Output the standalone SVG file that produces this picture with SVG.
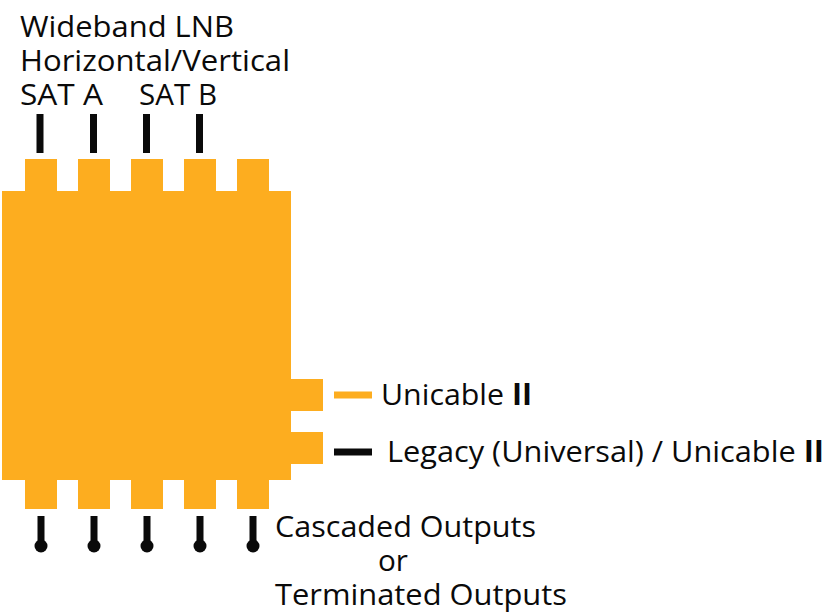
<svg xmlns="http://www.w3.org/2000/svg" width="828" height="615" viewBox="0 0 828 615">
<style>
.t{font-family:"Open Sans","Noto Sans",sans-serif;font-size:30px;fill:#0a0a0a}
.b{fill:#fdad1f}
.w{stroke:#0a0a0a;stroke-width:7;fill:none}
.e{fill:#0a0a0a}
</style>
<rect width="828" height="615" fill="#fff"/>
<g id="multiswitch">
<rect class="b" x="2" y="191" width="289" height="289"/>
<rect class="b" x="25" y="159" width="32" height="32"/>
<rect class="b" x="78" y="159" width="32" height="32"/>
<rect class="b" x="131" y="159" width="32" height="32"/>
<rect class="b" x="184" y="159" width="32" height="32"/>
<rect class="b" x="237" y="159" width="32" height="32"/>
<rect class="b" x="25" y="480" width="32" height="29"/>
<rect class="b" x="78" y="480" width="32" height="29"/>
<rect class="b" x="131" y="480" width="32" height="29"/>
<rect class="b" x="184" y="480" width="32" height="29"/>
<rect class="b" x="237" y="480" width="32" height="29"/>
<rect class="b" x="291" y="379" width="32" height="32"/>
<rect class="b" x="291" y="432" width="32" height="32"/>
</g>
<g id="connectors">
<path class="w" d="M40 114V153M93.500 114V153M146.500 114V153M199.500 114V153"/>
<path class="w" d="M41 516V546M94 516V546M147 516V546M200 516V546M253 516V546"/>
<circle class="e" cx="41" cy="546" r="6.500"/>
<circle class="e" cx="94" cy="546" r="6.500"/>
<circle class="e" cx="147" cy="546" r="6.500"/>
<circle class="e" cx="200" cy="546" r="6.500"/>
<circle class="e" cx="253" cy="546" r="6.500"/>
<path d="M334 395H372" stroke="#fdad1f" stroke-width="7" fill="none"/>
<path class="w" d="M334 452H372"/>
</g>
<g id="input-label">
<text class="t" x="20" y="37" textLength="214" lengthAdjust="spacingAndGlyphs">Wideband LNB</text>
<text class="t" x="20" y="71" textLength="270" lengthAdjust="spacingAndGlyphs">Horizontal/Vertical</text>
<text class="t" x="20" y="105" textLength="83" lengthAdjust="spacingAndGlyphs">SAT A</text>
<text class="t" x="139" y="105" textLength="78" lengthAdjust="spacingAndGlyphs">SAT B</text>
</g>
<g id="unicable-label">
<text class="t" x="381" y="405" textLength="151" lengthAdjust="spacingAndGlyphs">Unicable <tspan font-weight="700">II</tspan></text>
</g>
<g id="legacy-label">
<text class="t" x="387" y="462" textLength="437" lengthAdjust="spacingAndGlyphs">Legacy (Universal) / Unicable <tspan font-weight="700">II</tspan></text>
</g>
<g id="output-label">
<text class="t" x="275" y="537" textLength="261" lengthAdjust="spacingAndGlyphs">Cascaded Outputs</text>
<text class="t" x="378" y="571" textLength="30" lengthAdjust="spacingAndGlyphs">or</text>
<text class="t" x="275" y="605" textLength="292" lengthAdjust="spacingAndGlyphs">Terminated Outputs</text>
</g>
</svg>
